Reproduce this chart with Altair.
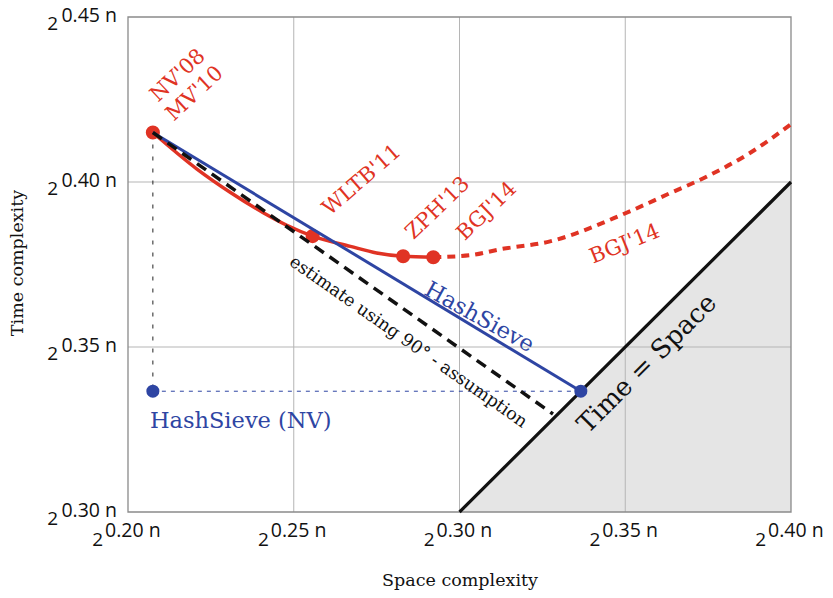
import altair as alt
import pandas as pd

# ---------------- data ----------------
# red solid curve: NV'08 -> WLTB'11 -> ZPH'13 -> BGJ'14
red_x = [0.2075, 0.2207, 0.2308, 0.2408, 0.2479, 0.2557, 0.2671, 0.2750, 0.2830, 0.2921]
red_y = [0.4150, 0.4040, 0.3969, 0.3907, 0.3869, 0.3836, 0.3805, 0.3785, 0.3775, 0.3772]
# red dotted continuation (BGJ'14 trade-off)
bgj_x = [0.2921, 0.3032, 0.3122, 0.3273, 0.3493, 0.3626, 0.3747, 0.3873, 0.4000]
bgj_y = [0.3772, 0.3778, 0.3796, 0.3820, 0.3902, 0.3962, 0.4017, 0.4086, 0.4175]
# red points
pt_names = ["NV'08", "WLTB'11", "ZPH'13", "BGJ'14"]
pt_x = [0.2075, 0.2557, 0.2830, 0.2921]
pt_y = [0.4150, 0.3836, 0.3775, 0.3772]
# HashSieve line and estimate line
hs_x = [0.2075, 0.3366]
hs_y = [0.4150, 0.3366]
est_x = [0.2075, 0.3282]
est_y = [0.4150, 0.3297]
# HashSieve points (HashSieve, HashSieve (NV))
hsp_x = [0.3366, 0.2075]
hsp_y = [0.3366, 0.3366]
# Time = Space diagonal
ts_x = [0.30, 0.40]
ts_y = [0.30, 0.40]
# ticks
x_ticks = [0.20, 0.25, 0.30, 0.35, 0.40]
x_tick_labels = ["0.20 n", "0.25 n", "0.30 n", "0.35 n", "0.40 n"]
y_ticks = [0.30, 0.35, 0.40, 0.45]
y_tick_labels = ["0.30 n", "0.35 n", "0.40 n", "0.45 n"]

# text annotations
red_labels = ["NV'08", "MV'10", "WLTB'11", "ZPH'13", "BGJ'14", "BGJ'14"]
red_lab_x = [0.2151, 0.2202, 0.2706, 0.2935, 0.3083, 0.3499]
red_lab_y = [0.4322, 0.4267, 0.4005, 0.3920, 0.3911, 0.3811]
red_lab_angle = [317, 317, 319, 316, 316, 338]

W, H = 663, 495
RED = "#e03324"
BLUE = "#2e45a3"
SERIF = "DejaVu Serif"
SANS = "Open Sans"

xs = alt.Scale(domain=[0.20, 0.40], nice=False, zero=False)
ys = alt.Scale(domain=[0.30, 0.45], nice=False, zero=False)

def X():
    return alt.X("x:Q", scale=xs, axis=None)

def Y():
    return alt.Y("y:Q", scale=ys, axis=None)

def line_df(xv, yv):
    return pd.DataFrame({"x": xv, "y": yv, "i": list(range(len(xv)))})

# gray region below Time = Space
area = alt.Chart(pd.DataFrame({"x": ts_x, "y": ts_y, "y2": [0.30, 0.30]})).mark_area(
    color="#e5e5e5", opacity=1
).encode(x=X(), y=Y(), y2="y2:Q")

# grid lines
vgrid = alt.Chart(pd.DataFrame({"x": x_ticks[1:-1]})).mark_rule(
    color="#b5b5b5", strokeWidth=1).encode(x=X())
hgrid = alt.Chart(pd.DataFrame({"y": y_ticks[1:-1]})).mark_rule(
    color="#b5b5b5", strokeWidth=1).encode(y=Y())

frame = alt.Chart(pd.DataFrame({"a": [0]})).mark_rect(
    filled=False, stroke="#8a8a8a", strokeWidth=1.3
).encode(x=alt.value(0), x2=alt.value(W), y=alt.value(0), y2=alt.value(H))

diag = alt.Chart(line_df(ts_x, ts_y)).mark_line(color="#111", strokeWidth=3.2).encode(
    x=X(), y=Y(), order="i:Q")

vdot = alt.Chart(line_df([hs_x[0], hs_x[0]], [hs_y[0], hsp_y[1]])).mark_line(
    color="#222", strokeWidth=1, strokeDash=[4, 8]).encode(x=X(), y=Y(), order="i:Q")
hdot = alt.Chart(line_df([hsp_x[1], hsp_x[0]], [hsp_y[1], hsp_y[0]])).mark_line(
    color=BLUE, strokeWidth=1, strokeDash=[4, 5]).encode(x=X(), y=Y(), order="i:Q")

red_line = alt.Chart(line_df(red_x, red_y)).mark_line(
    color=RED, strokeWidth=3.5, interpolate="monotone").encode(x=X(), y=Y(), order="i:Q")
red_dotted = alt.Chart(line_df(bgj_x, bgj_y)).mark_line(
    color=RED, strokeWidth=4, strokeDash=[8, 6], interpolate="monotone").encode(
    x=X(), y=Y(), order="i:Q")

red_pts = alt.Chart(pd.DataFrame({"x": pt_x, "y": pt_y, "name": pt_names})).mark_point(
    filled=True, color=RED, size=200, opacity=1).encode(x=X(), y=Y())

blue_line = alt.Chart(line_df(hs_x, hs_y)).mark_line(
    color=BLUE, strokeWidth=3).encode(x=X(), y=Y(), order="i:Q")
est_line = alt.Chart(line_df(est_x, est_y)).mark_line(
    color="#111", strokeWidth=3.5, strokeDash=[11, 7]).encode(x=X(), y=Y(), order="i:Q")

blue_pts = alt.Chart(pd.DataFrame({"x": hsp_x, "y": hsp_y})).mark_point(
    filled=True, color=BLUE, size=170, opacity=1).encode(x=X(), y=Y())

# annotations
red_text = alt.Chart(pd.DataFrame({"x": red_lab_x, "y": red_lab_y, "t": red_labels,
                                   "a": red_lab_angle})).mark_text(
    font=SERIF, fontSize=21, color=RED, align="center", baseline="middle").encode(
    x=X(), y=Y(), text="t:N", angle=alt.Angle("a:Q", scale=None))

def label(txt, x, y, angle, color, size, align="center", baseline="middle"):
    return alt.Chart(pd.DataFrame({"x": [x], "y": [y], "t": [txt]})).mark_text(
        font=SERIF, fontSize=size, color=color, align=align, baseline=baseline,
        angle=angle).encode(x=X(), y=Y(), text="t:N")

t_hs = label("HashSieve", 0.3060, 0.3590, 29, BLUE, 22.5)
t_hsnv = label("HashSieve (NV)", 0.2066, 0.3254, 0, BLUE, 22.5, align="left",
               baseline="alphabetic")
t_est = label("estimate using 90° - assumption", 0.2845, 0.3515, 35, "#111", 17.5)
t_ts = label("Time = Space", 0.3566, 0.3449, 315, "#111", 26)

# axis titles
x_title = alt.Chart(pd.DataFrame({"t": ["Space complexity"]})).mark_text(
    font=SERIF, fontSize=17.5, color="#111", align="center", baseline="alphabetic").encode(
    x=alt.value(332), y=alt.value(H + 74), text="t:N")
y_title = alt.Chart(pd.DataFrame({"t": ["Time complexity"]})).mark_text(
    font=SERIF, fontSize=17.5, color="#111", align="center", baseline="middle",
    angle=270).encode(x=alt.value(-110), y=alt.value(246), text="t:N")

# tick labels: 2^{0.xx n}
xt_df = pd.DataFrame({"x": x_ticks, "t": x_tick_labels, "b": ["2"] * len(x_ticks)})
xt_exp = alt.Chart(xt_df).mark_text(font=SANS, fontSize=19.5, color="#111", align="left",
                                     baseline="alphabetic", dx=-23, dy=25).encode(
    x=X(), y=alt.value(H), text="t:N")
xt_base = alt.Chart(xt_df).mark_text(font=SANS, fontSize=19, color="#111", align="right",
                                      baseline="alphabetic", dx=-25, dy=34).encode(
    x=X(), y=alt.value(H), text="b:N")
yt_df = pd.DataFrame({"y": y_ticks, "t": y_tick_labels, "b": ["2"] * len(y_ticks)})
yt_exp = alt.Chart(yt_df).mark_text(font=SANS, fontSize=19.5, color="#111", align="right",
                                     baseline="alphabetic", dx=-11, dy=5).encode(
    y=Y(), x=alt.value(0), text="t:N")
yt_base = alt.Chart(yt_df).mark_text(font=SANS, fontSize=19, color="#111", align="right",
                                      baseline="alphabetic", dx=-70, dy=13).encode(
    y=Y(), x=alt.value(0), text="b:N")

chart = alt.layer(
    area, vgrid, hgrid, frame, diag, vdot, hdot, red_dotted, red_line, red_pts,
    blue_line, est_line, blue_pts, red_text, t_hs, t_hsnv, t_est, t_ts,
    x_title, y_title, xt_exp, xt_base, yt_exp, yt_base
).properties(
    width=W, height=H,
    padding={"left": 120, "top": 9, "right": 32, "bottom": 78},
    autosize=alt.AutoSizeParams(type="none"),
    background="white",
).configure_view(stroke=None)

chart.save("out.html", embed_options={"renderer": "svg", "actions": False})
